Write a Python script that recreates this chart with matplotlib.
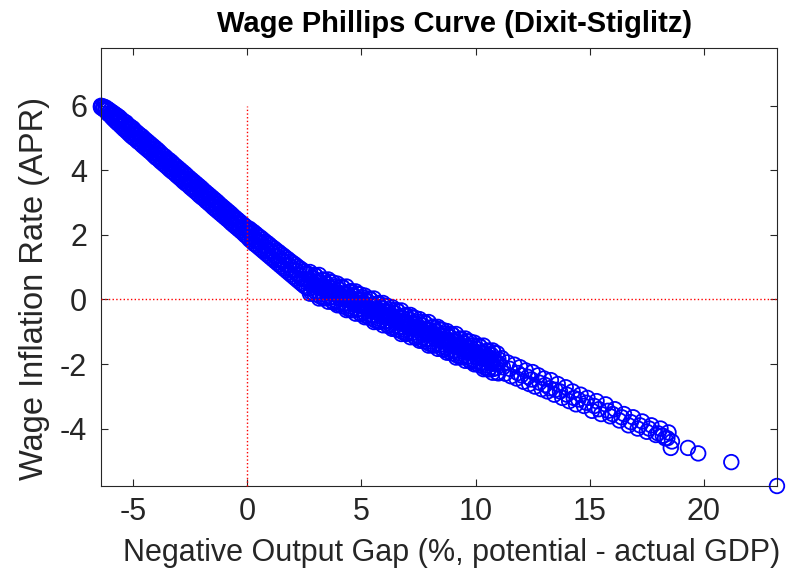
import numpy as np
import matplotlib
matplotlib.use("Agg")
import matplotlib.pyplot as plt

# helvetica-like font, plain hyphen for negatives like matlab
plt.rcParams["font.family"] = ["Liberation Sans", "DejaVu Sans"]
plt.rcParams["axes.unicode_minus"] = False

# left part of the cloud (output gap < 0)
gap_left = [-6.4, -6.3, -6.2, -6.1, -6.0, -5.9, -5.8, -5.7, -5.6, -5.5, -5.4, -5.3, -5.2,
            -5.1, -5.0, -4.9, -4.8, -4.7, -4.6, -4.5, -4.4, -4.3, -4.2, -4.1, -4.0, -3.9,
            -3.8, -3.7, -3.6, -3.5, -3.4, -3.3, -3.2, -3.1, -3.0, -2.9, -2.8, -2.7, -2.6,
            -2.5, -2.4, -2.3, -2.2, -2.1, -2.0, -1.9, -1.8, -1.7, -1.6, -1.5, -1.4, -1.3,
            -1.2, -1.1, -1.0, -0.9, -0.8, -0.7, -0.6, -0.5, -0.4, -0.3, -0.2, -0.1, 0.0]
infl_left_hi = [6.00, 5.98, 5.95, 5.90, 5.85, 5.80, 5.75, 5.70, 5.65, 5.58, 5.52, 5.48, 5.40,
                5.35, 5.30, 5.22, 5.16, 5.10, 5.05, 4.98, 4.92, 4.86, 4.80, 4.74, 4.68, 4.62,
                4.55, 4.48, 4.43, 4.36, 4.31, 4.25, 4.18, 4.12, 4.06, 4.00, 3.94, 3.88, 3.81,
                3.75, 3.69, 3.63, 3.57, 3.51, 3.45, 3.38, 3.32, 3.26, 3.20, 3.14, 3.08, 3.02,
                2.95, 2.89, 2.83, 2.77, 2.71, 2.65, 2.58, 2.52, 2.46, 2.40, 2.34, 2.28, 2.22]
infl_left_md = [5.98, 5.92, 5.89, 5.88, 5.75, 5.74, 5.61, 5.59, 5.57, 5.44, 5.43, 5.30, 5.28,
                5.27, 5.14, 5.12, 4.99, 4.97, 4.96, 4.83, 4.82, 4.69, 4.66, 4.65, 4.52, 4.51,
                4.38, 4.36, 4.34, 4.21, 4.20, 4.07, 4.05, 4.04, 3.91, 3.89, 3.76, 3.74, 3.73,
                3.60, 3.59, 3.46, 3.43, 3.42, 3.29, 3.28, 3.15, 3.13, 3.11, 2.98, 2.97, 2.84,
                2.82, 2.81, 2.68, 2.66, 2.53, 2.51, 2.50, 2.37, 2.36, 2.23, 2.20, 2.19, 2.06]
infl_left_lo = [5.95, 5.90, 5.85, 5.76, 5.70, 5.62, 5.55, 5.48, 5.42, 5.35, 5.28, 5.22, 5.15,
                5.08, 5.02, 4.97, 4.90, 4.85, 4.78, 4.72, 4.66, 4.60, 4.54, 4.47, 4.40, 4.35,
                4.28, 4.22, 4.16, 4.10, 4.03, 3.97, 3.92, 3.85, 3.79, 3.73, 3.66, 3.60, 3.55,
                3.48, 3.42, 3.36, 3.30, 3.23, 3.17, 3.12, 3.05, 2.99, 2.93, 2.86, 2.80, 2.74,
                2.68, 2.62, 2.56, 2.50, 2.44, 2.37, 2.31, 2.25, 2.19, 2.13, 2.07, 2.00, 1.94]

# the bend just right of zero
gap_mid = [0.1, 0.2, 0.3, 0.4, 0.5, 0.6, 0.7, 0.8, 0.9, 1.0, 1.1, 1.2, 1.3, 1.4, 1.5, 1.6,
           1.7, 1.8, 1.9, 2.0, 2.1, 2.2, 2.3, 2.4, 2.5, 2.6]
infl_mid_hi = [2.19, 2.13, 2.08, 2.02, 1.96, 1.91, 1.85, 1.79, 1.74, 1.68, 1.62, 1.57, 1.51,
               1.46, 1.40, 1.35, 1.29, 1.24, 1.18, 1.13, 1.08, 1.02, 0.97, 0.92, 0.87, 0.82]
infl_mid_md = [2.07, 1.93, 1.93, 1.79, 1.79, 1.78, 1.64, 1.64, 1.50, 1.50, 1.49, 1.35, 1.35,
               1.21, 1.21, 1.20, 1.06, 1.06, 0.92, 0.92, 0.91, 0.77, 0.77, 0.63, 0.63, 0.62]
infl_mid_lo = [1.86, 1.80, 1.73, 1.68, 1.62, 1.56, 1.50, 1.44, 1.38, 1.32, 1.26, 1.20, 1.14,
               1.08, 1.02, 0.96, 0.90, 0.84, 0.78, 0.72, 0.66, 0.60, 0.54, 0.48, 0.42, 0.37]

# flatter dense band
gap_band = [2.7, 2.8, 2.9, 3.0, 3.1, 3.2, 3.3, 3.4, 3.5, 3.6, 3.7, 3.8, 3.9, 4.0, 4.1, 4.2,
            4.3, 4.4, 4.5, 4.6, 4.7, 4.8, 4.9, 5.0, 5.1, 5.2, 5.3, 5.4, 5.5, 5.6, 5.7, 5.8,
            5.9, 6.0, 6.1, 6.2, 6.3, 6.4, 6.5, 6.6, 6.7, 6.8, 6.9, 7.0, 7.1, 7.2, 7.3, 7.4,
            7.5, 7.6, 7.7, 7.8, 7.9, 8.0, 8.1, 8.2, 8.3, 8.4, 8.5, 8.6, 8.7, 8.8, 8.9, 9.0,
            9.1, 9.2, 9.3, 9.4, 9.5, 9.6, 9.7, 9.8, 9.9, 10.0, 10.1, 10.2, 10.3, 10.4, 10.5,
            10.6, 10.7, 10.8, 10.9, 11.0]
infl_band_hi = [0.78, 0.59, 0.66, 0.73, 0.44, 0.53, 0.60, 0.41, 0.48, 0.55, 0.26, 0.34,
                0.41, 0.22, 0.29, 0.36, 0.07, 0.16, 0.23, 0.04, 0.11, 0.18, -0.11, -0.02,
                0.05, -0.14, -0.07, 0.00, -0.30, -0.21, -0.14, -0.33, -0.26, -0.19, -0.48, -0.39,
                -0.32, -0.51, -0.44, -0.37, -0.66, -0.57, -0.50, -0.69, -0.62, -0.55, -0.84, -0.75,
                -0.69, -0.88, -0.81, -0.74, -1.03, -0.94, -0.87, -1.06, -0.99, -0.92, -1.21, -1.12,
                -1.05, -1.24, -1.17, -1.10, -1.39, -1.30, -1.23, -1.42, -1.36, -1.29, -1.58, -1.49,
                -1.42, -1.61, -1.54, -1.47, -1.76, -1.67, -1.60, -1.79, -1.72, -1.65, -1.94, -1.85]
infl_band_md = [0.58, 0.45, 0.48, 0.53, 0.39, 0.41, 0.40, 0.27, 0.30, 0.35, 0.21, 0.22,
                0.21, 0.08, 0.11, 0.16, 0.02, 0.04, 0.03, -0.10, -0.07, -0.02, -0.16, -0.14,
                -0.15, -0.28, -0.25, -0.20, -0.35, -0.33, -0.34, -0.47, -0.44, -0.39, -0.53, -0.51,
                -0.52, -0.65, -0.62, -0.57, -0.71, -0.69, -0.70, -0.83, -0.80, -0.75, -0.89, -0.87,
                -0.89, -1.02, -0.99, -0.94, -1.08, -1.06, -1.07, -1.20, -1.17, -1.12, -1.26, -1.24,
                -1.25, -1.38, -1.35, -1.30, -1.44, -1.42, -1.43, -1.56, -1.54, -1.49, -1.63, -1.61,
                -1.62, -1.75, -1.72, -1.67, -1.81, -1.79, -1.80, -1.93, -1.90, -1.85, -1.99, -1.97]
infl_band_lo = [0.34, 0.23, 0.38, 0.23, 0.26, 0.09, 0.16, 0.05, 0.20, 0.05, 0.08, -0.10,
                -0.03, -0.14, 0.01, -0.14, -0.11, -0.28, -0.21, -0.32, -0.17, -0.32, -0.29, -0.46,
                -0.39, -0.50, -0.35, -0.50, -0.48, -0.65, -0.58, -0.69, -0.54, -0.69, -0.66, -0.83,
                -0.76, -0.87, -0.72, -0.87, -0.84, -1.01, -0.94, -1.05, -0.90, -1.05, -1.02, -1.19,
                -1.13, -1.24, -1.09, -1.24, -1.21, -1.38, -1.31, -1.42, -1.27, -1.42, -1.39, -1.56,
                -1.49, -1.60, -1.45, -1.60, -1.57, -1.74, -1.67, -1.78, -1.64, -1.79, -1.76, -1.93,
                -1.86, -1.97, -1.82, -1.97, -1.94, -2.11, -2.04, -2.15, -2.00, -2.15, -2.12, -2.29]

# outer edges of the dense band
gap_edge = [2.75, 2.95, 3.15, 3.35, 3.55, 3.75, 3.95, 4.15, 4.35, 4.55, 4.75, 4.95, 5.15,
            5.35, 5.55, 5.75, 5.95, 6.15, 6.35, 6.55, 6.75, 6.95, 7.15, 7.35, 7.55, 7.75,
            7.95, 8.15, 8.35, 8.55, 8.75, 8.95, 9.15, 9.35, 9.55, 9.75, 9.95, 10.15, 10.35,
            10.55, 10.75, 10.95]
infl_edge_top = [0.85, 0.76, 0.76, 0.62, 0.62, 0.53, 0.49, 0.40, 0.40, 0.26, 0.25, 0.16,
                 0.12, 0.03, 0.03, -0.11, -0.11, -0.20, -0.24, -0.33, -0.34, -0.48, -0.48,
                 -0.57, -0.61, -0.70, -0.70, -0.84, -0.85, -0.94, -0.98, -1.07, -1.07, -1.21,
                 -1.21, -1.30, -1.34, -1.43, -1.43, -1.58, -1.58, -1.67]
infl_edge_bot = [0.18, 0.16, 0.03, 0.03, -0.07, -0.07, -0.18, -0.20, -0.33, -0.34, -0.44,
                 -0.44, -0.55, -0.57, -0.70, -0.70, -0.80, -0.80, -0.91, -0.94, -1.07, -1.07,
                 -1.17, -1.17, -1.28, -1.30, -1.43, -1.43, -1.53, -1.54, -1.65, -1.67, -1.80,
                 -1.80, -1.90, -1.90, -2.01, -2.03, -2.16, -2.17, -2.27, -2.27]

# thinner tail
gap_tail = [11.15, 11.3, 11.4, 11.55, 11.7, 11.8, 11.95, 12.1, 12.2, 12.35, 12.5, 12.6,
            12.75, 12.9, 13.0, 13.15, 13.3, 13.45, 13.6, 13.8, 13.95, 14.1, 14.25, 14.4,
            14.6, 14.75, 14.9, 15.1, 15.3, 15.5, 15.7, 15.9, 16.1, 16.3, 16.5, 16.7, 16.9,
            17.1, 17.3, 17.5, 17.7, 17.9, 18.1, 18.3, 18.45, 18.6,
            11.2, 11.5, 11.85, 12.0, 12.3, 12.45, 12.8, 13.05, 13.25, 13.5, 13.7, 14.0,
            14.3, 14.5, 14.85, 15.2, 15.4, 15.8, 16.0, 16.4, 16.8, 17.2, 17.6, 18.0, 18.2, 18.4]
infl_tail = [-1.82, -2.30, -1.95, -2.38, -2.02, -2.45, -2.10, -2.55, -2.20, -2.62, -2.25, -2.70,
             -2.35, -2.78, -2.45, -2.85, -2.50, -2.95, -2.62, -3.05, -2.72, -3.15, -2.85, -3.25,
             -2.95, -3.30, -3.05, -3.45, -3.15, -3.55, -3.25, -3.62, -3.40, -3.75, -3.55, -3.90,
             -3.65, -4.00, -3.78, -4.10, -3.90, -4.20, -4.00, -4.30, -4.12, -4.40,
             -2.10, -2.15, -2.28, -2.35, -2.40, -2.48, -2.58, -2.65, -2.75, -2.80, -2.85, -2.95,
             -3.05, -3.10, -3.20, -3.30, -3.40, -3.45, -3.55, -3.65, -3.80, -3.90, -4.00, -4.15,
             -4.22, -4.30]

# last few isolated points
gap_out = [18.55, 19.3, 19.75, 21.2, 23.2]
infl_out = [-4.60, -4.60, -4.77, -5.04, -5.78]

gap = np.concatenate([gap_left] * 3 + [gap_mid] * 3 + [gap_band] * 3 + [gap_edge] * 2
                     + [gap_tail, gap_out])
infl = np.concatenate([infl_left_hi, infl_left_md, infl_left_lo,
                       infl_mid_hi, infl_mid_md, infl_mid_lo,
                       infl_band_hi, infl_band_md, infl_band_lo,
                       infl_edge_top, infl_edge_bot, infl_tail, infl_out])

fig = plt.figure(figsize=(7.96, 5.77), dpi=100)
ax = fig.add_axes([0.1269, 0.1577, 0.8492, 0.7596])

ax.scatter(gap, infl, s=110, facecolors="none", edgecolors="#0000ff", linewidths=1.3,
           clip_on=False, zorder=2)

# dotted red reference lines
ax.plot([gap.min(), gap.max()], [0, 0], ":", color="red", lw=1.0, zorder=3, clip_on=False)
ax.plot([0, 0], [infl.min(), infl.max()], ":", color="red", lw=1.0, zorder=3, clip_on=False)

ax.set_xlim(gap.min(), gap.max())
ax.set_ylim(infl.min(), 7.8)
ax.set_xticks([-5, 0, 5, 10, 15, 20])
ax.set_yticks([-4, -2, 0, 2, 4, 6])

ax.tick_params(direction="in", length=5, width=0.8, colors="#262626", labelsize=22,
               top=True, right=True)
ax.tick_params(axis="x", pad=8)
ax.tick_params(axis="y", pad=10)
for sp in ax.spines.values():
    sp.set_color("#262626")
    sp.set_linewidth(0.8)

fig.text(455 / 796, 1 - 24 / 577, "Wage Phillips Curve (Dixit-Stiglitz)", ha="center",
         va="center", fontsize=21, fontweight="bold", color="black")
fig.text(452 / 796, 1 - 553 / 577, "Negative Output Gap (%, potential - actual GDP)",
         ha="center", va="center", fontsize=22, color="#262626")
fig.text(35 / 796, 1 - 288 / 577, "Wage Inflation Rate (APR)", ha="center", va="center",
         rotation=90, fontsize=23.5, color="#262626")

fig.savefig("out.png", dpi=100)
